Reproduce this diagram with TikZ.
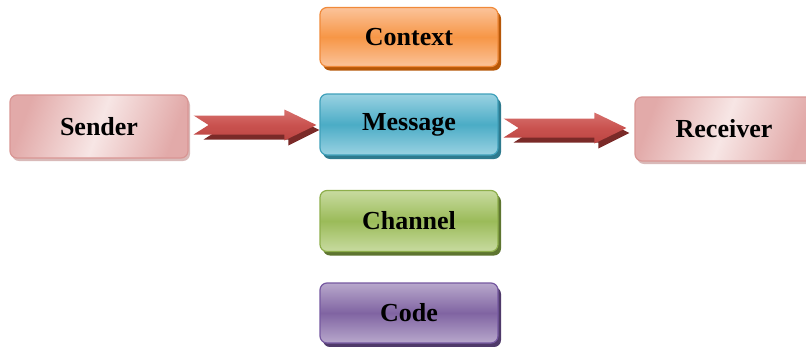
\documentclass[tikz,border=0pt]{standalone}
\usepackage{fontspec}
\setmainfont{Liberation Serif}
\usetikzlibrary{shadows,calc}
\definecolor{pinkD}{HTML}{E2AAA9}
\definecolor{pinkL}{HTML}{F7E6E5}
\definecolor{pinkB}{HTML}{D99694}
\definecolor{pinkS}{HTML}{CFA9A8}
\definecolor{orM}{HTML}{F79646}
\definecolor{orL}{HTML}{FBC39A}
\definecolor{orB}{HTML}{F08A3A}
\definecolor{orS}{HTML}{B65708}
\definecolor{blM}{HTML}{4BACC6}
\definecolor{blL}{HTML}{9AD2E2}
\definecolor{blB}{HTML}{3FA0BA}
\definecolor{blS}{HTML}{2E7A8E}
\definecolor{grM}{HTML}{9BBB59}
\definecolor{grL}{HTML}{C8DBA0}
\definecolor{grB}{HTML}{8DAE4B}
\definecolor{grS}{HTML}{5E7530}
\definecolor{puM}{HTML}{8064A2}
\definecolor{puL}{HTML}{B8A8CC}
\definecolor{puB}{HTML}{7558A0}
\definecolor{puS}{HTML}{4F3A6A}
\definecolor{arT}{HTML}{D7716E}
\definecolor{arM}{HTML}{C9524F}
\definecolor{arB}{HTML}{BC4542}
\definecolor{arS}{HTML}{7A2A28}
\tikzset{
  box/.style={rounded corners=7pt, minimum width=178pt, inner sep=0pt,
    font=\fontsize{26}{30}\selectfont\bfseries, text=black, line width=1.2pt},
  colbox/.style n args={4}{box, draw=#3,
    drop shadow={shadow xshift=3pt, shadow yshift=-4pt, fill=#4, opacity=1},
    top color=#2, bottom color=#2, middle color=#1},
  pinkbox/.style={box, draw=pinkB,
    drop shadow={shadow xshift=2pt, shadow yshift=-3pt, fill=pinkS, opacity=0.8},
    left color=pinkD, right color=pinkD, middle color=pinkL, shading angle=70},
}
\newcommand\blockarrow[2]{%
  \fill[arS] ($(#1)+(10,-4.5)$) -- ($(#2)+(-28,-4.5)$) -- ($(#2)+(-28,-10.5)$) -- ($(#2)+(3,5)$)
    -- ($(#2)+(-28,20.5)$) -- ($(#2)+(-28,14.5)$) -- ($(#1)+(10,14.5)$) -- ($(#1)+(25,5)$) -- cycle;
  \shade[top color=arT, bottom color=arB, middle color=arM]
    ($(#1)+(0,-9.5)$) -- ($(#2)+(-32,-9.5)$) -- ($(#2)+(-32,-15.5)$) -- (#2)
    -- ($(#2)+(-32,15.5)$) -- ($(#2)+(-32,9.5)$) -- ($(#1)+(0,9.5)$) -- ($(#1)+(15,0)$) -- cycle;
}
\begin{document}
\begin{tikzpicture}[x=1pt,y=-1pt]
\useasboundingbox (0,0) rectangle (806,346);
\node[pinkbox, minimum height=63pt] (sender) at (99,126.5) {Sender};
\node[colbox={orM}{orL}{orB}{orS}, minimum height=59pt] (context) at (409,37) {Context};
\node[colbox={blM}{blL}{blB}{blS}, minimum height=61pt] (message) at (409,124.5) {Message};
\node[colbox={grM}{grL}{grB}{grS}, minimum height=61pt] (channel) at (409,221) {Channel};
\node[colbox={puM}{puL}{puB}{puS}, minimum height=60pt] (code) at (409,313) {Code};
\node[pinkbox, minimum height=64pt] (receiver) at (724,129) {Receiver};
\coordinate (a1s) at ($(sender.east)+(5,-1.5)$);
\coordinate (a1e) at ($(message.west |- sender.east)+(-3,-1.5)$);
\coordinate (a2s) at ($(message.east |- receiver.west)+(5,-1)$);
\coordinate (a2e) at ($(receiver.west)+(-8,-1)$);
\blockarrow{a1s}{a1e}
\blockarrow{a2s}{a2e}
\end{tikzpicture}
\end{document}
